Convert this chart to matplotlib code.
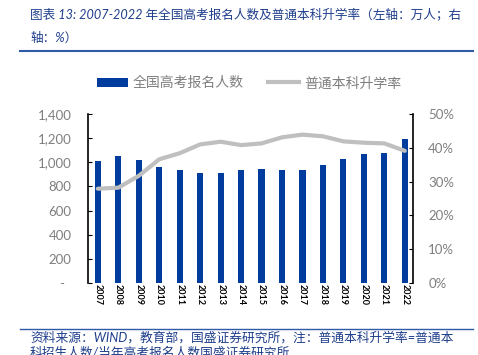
import matplotlib
matplotlib.use("Agg")
import matplotlib.pyplot as plt
from matplotlib.lines import Line2D
from matplotlib.patches import Patch
from matplotlib.ticker import FuncFormatter

plt.rcParams['font.family'] = ['Lato', 'Noto Sans CJK SC', 'DejaVu Sans']

years = ["2007", "2008", "2009", "2010", "2011", "2012", "2013", "2014",
         "2015", "2016", "2017", "2018", "2019", "2020", "2021", "2022"]
applicants = [1010, 1050, 1020, 957, 933, 915, 912, 939,
              942, 940, 940, 975, 1031, 1071, 1078, 1193]
rate = [27.9, 28.2, 31.7, 36.6, 38.4, 41.0, 41.8, 40.8,
        41.3, 43.1, 43.9, 43.4, 41.9, 41.5, 41.3, 39.1]

bar_label = "全国高考报名人数"
line_label = "普通本科升学率"
title1 = "图表 13: 2007-2022 年全国高考报名人数及普通本科升学率（左轴：万人；右"
title2 = "轴：%）"
foot1 = "资料来源：WIND，教育部，国盛证券研究所，注：普通本科升学率=普通本"
foot2 = "科招生人数/当年高考报名人数国盛证券研究所"

BLUE = "#003C9D"
GRAY = "#BFBFBF"
TXT_BLUE = "#1F3E8C"
RULE_BLUE = "#2E5AA8"
TICK_GRAY = "#7F7F7F"

W, H = 478, 355
fig = plt.figure(figsize=(W / 100, H / 100), dpi=100)

ax = fig.add_axes([88 / W, 1 - 283 / H, (413 - 88) / W, (283 - 114) / H])
x = list(range(len(years)))
ax.bar(x, applicants, width=0.3, color=BLUE, zorder=2)
ax.set_xlim(-0.48, 15.4)
ax.set_ylim(0, 1400)
ax.set_yticks(range(0, 1401, 200))
ax.yaxis.set_major_formatter(FuncFormatter(lambda v, p: "-  " if v == 0 else f"{int(v):,}"))
ax.tick_params(axis='y', direction='in', length=3, pad=12, labelsize=9.5,
               labelcolor=TICK_GRAY, color='black')
ax.set_xticks(x)
ax.set_xticklabels(years, rotation=-90, fontsize=6.5, fontweight='bold', color='black')
ax.tick_params(axis='x', length=0, pad=1)
for s in ['top', 'bottom', 'right']:
    ax.spines[s].set_visible(False)
ax.spines['left'].set_color('black')
ax.spines['left'].set_linewidth(1.2)

ax2 = ax.twinx()
ax2.plot(x, rate, color=GRAY, lw=3, solid_capstyle='round', zorder=3)
ax2.set_ylim(0, 50)
ax2.set_yticks(range(0, 51, 10))
ax2.yaxis.set_major_formatter(FuncFormatter(lambda v, p: f"{int(v)}%"))
ax2.tick_params(axis='y', direction='in', length=3, pad=11, labelsize=9.5,
                labelcolor=TICK_GRAY, color='black')
for s in ['top', 'bottom', 'left']:
    ax2.spines[s].set_visible(False)
ax2.spines['right'].set_color('black')
ax2.spines['right'].set_linewidth(1.2)

handles = [Patch(facecolor=BLUE, edgecolor='none'),
           Line2D([0], [0], color=GRAY, lw=3)]
fig.legend(handles, [bar_label, line_label], loc='center',
           bbox_to_anchor=(0.521, 1 - 82.7 / H), ncol=2, frameon=False,
           fontsize=10, handlelength=2.2, handletextpad=0.35, columnspacing=1.8,
           labelcolor='#7F7F7F')

fig.text(30 / W, 1 - 14 / H, title1, fontsize=9.1, color=TXT_BLUE,
         style='italic', va='center', ha='left')
fig.text(30 / W, 1 - 38 / H, title2, fontsize=9.1, color=TXT_BLUE,
         style='italic', va='center', ha='left')
fig.add_artist(Line2D([20 / W, 473 / W], [1 - 51 / H, 1 - 51 / H],
                      color=RULE_BLUE, lw=1.5, transform=fig.transFigure))
fig.add_artist(Line2D([20 / W, 473 / W], [1 - 329 / H, 1 - 329 / H],
                      color=RULE_BLUE, lw=1.0, transform=fig.transFigure))
fig.text(30 / W, 1 - 337.5 / H, foot1, fontsize=9.2, color=TXT_BLUE,
         style='italic', va='center', ha='left')
fig.text(30 / W, 1 - 353 / H, foot2, fontsize=9.2, color=TXT_BLUE,
         style='italic', va='center', ha='left')

fig.savefig("out.png", dpi=100)
